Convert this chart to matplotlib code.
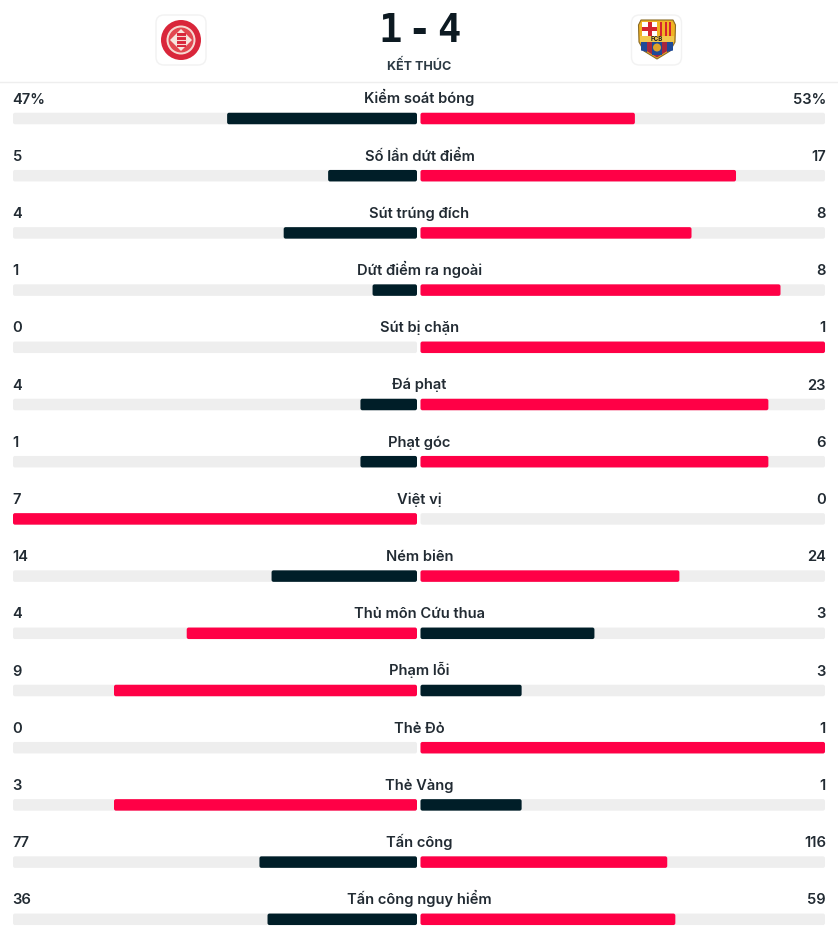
import matplotlib
matplotlib.use("Agg")
import matplotlib.pyplot as plt
from matplotlib.patches import FancyBboxPatch, Circle, Polygon, Rectangle

plt.rcParams['font.family'] = ['Inter', 'Noto Sans', 'DejaVu Sans']

categories = ["Kiểm soát bóng", "Số lần dứt điểm", "Sút trúng đích", "Dứt điểm ra ngoài",
              "Sút bị chặn", "Đá phạt", "Phạt góc", "Việt vị", "Ném biên",
              "Thủ môn Cứu thua", "Phạm lỗi", "Thẻ Đỏ", "Thẻ Vàng", "Tấn công",
              "Tấn công nguy hiểm"]
home_labels = ["47%", "5", "4", "1", "0", "4", "1", "7", "14", "4", "9", "0", "3", "77", "36"]
away_labels = ["53%", "17", "8", "8", "1", "23", "6", "0", "24", "3", "3", "1", "1", "116", "59"]
home_share = [47, 22, 33, 11, 0, 14, 14, 100, 36, 57, 75, 0, 75, 39, 37]
away_share = [53, 78, 67, 89, 100, 86, 86, 0, 64, 43, 25, 100, 25, 61, 63]
home_wins = [False, False, False, False, False, False, False, True, False, True, True, False, True, False, False]

W, H = 838, 940
DARK, RED, TRACK, TEXT = "#001e28", "#ff0046", "#eeeeee", "#222b33"
fig = plt.figure(figsize=(W / 100, H / 100), dpi=100, facecolor="white")
ax = fig.add_axes([0, 0, 1, 1])
ax.set_xlim(0, W)
ax.set_ylim(H, 0)
ax.axis("off")

LEFT_END, LEFT_ZERO, RIGHT_ZERO, RIGHT_END = 13, 417, 420.5, 825
ROW0, ROW_STEP, BAR_H = 118.5, 57.2, 11.5


def rbar(x0, x1, yc, color, z=2):
    if x1 - x0 <= 0:
        return
    r = 2
    ax.add_patch(FancyBboxPatch((x0 + r, yc - BAR_H / 2 + r), x1 - x0 - 2 * r, BAR_H - 2 * r,
                                boxstyle=f"round,pad={r},rounding_size={r}",
                                fc=color, ec="none", zorder=z))


for i, cat in enumerate(categories):
    yc = ROW0 + i * ROW_STEP
    rbar(LEFT_END, LEFT_ZERO, yc, TRACK, 1)
    rbar(RIGHT_ZERO, RIGHT_END, yc, TRACK, 1)
    hc, ac = (RED, DARK) if home_wins[i] else (DARK, RED)
    rbar(LEFT_ZERO - (LEFT_ZERO - LEFT_END) * home_share[i] / 100, LEFT_ZERO, yc, hc)
    rbar(RIGHT_ZERO, RIGHT_ZERO + (RIGHT_END - RIGHT_ZERO) * away_share[i] / 100, yc, ac)
    ty = yc - 15
    ax.text(419.5, ty, cat, ha="center", va="baseline", fontsize=10.6, fontweight="semibold", color=TEXT)
    ax.text(12.5, ty, home_labels[i], ha="left", va="baseline", fontsize=10.6, fontweight="semibold", color=TEXT)
    ax.text(826, ty, away_labels[i], ha="right", va="baseline", fontsize=10.6, fontweight="semibold", color=TEXT)

# Header
ax.plot([0, W], [82, 82], color="#eeeeee", lw=1, zorder=1)
score_parts = ["1", "-", "4"]
for part, sx in zip(score_parts, (390, 419, 449)):
    ax.text(sx, 42.5, part, ha="center", va="baseline", fontsize=28, fontweight="bold",
            family="DejaVu Sans Mono", color="#0d1a22")
ax.text(419.5, 70.5, "KẾT THÚC", ha="center", va="baseline", fontsize=9, fontweight="bold", color="#2c3a44")

for cx in (181, 656.5):
    ax.add_patch(FancyBboxPatch((cx - 21, 19), 42, 42, boxstyle="round,pad=4,rounding_size=8",
                                fc="white", ec="#f2f2f2", lw=1, zorder=1))

# Girona badge
ax.add_patch(Circle((181, 40), 20, fc="#d9263a", ec="none", zorder=3))
ax.add_patch(Circle((181, 40), 14.5, fc="#f6d9d2", ec="none", zorder=4))
ax.add_patch(Circle((181, 40), 12.5, fc="#e2474f", ec="none", zorder=4.5))
ax.add_patch(Polygon([(181, 29), (192, 40), (181, 51), (170, 40)], fc="#f7e6de", ec="none", zorder=5))
ax.add_patch(Rectangle((176.5, 33), 9, 14, fc="#d9263a", ec="none", zorder=6))
for sy in (36, 40, 44):
    ax.plot([176.5, 185.5], [sy, sy], color="#f6d9d2", lw=0.8, zorder=7)

# Barcelona crest
crest = [(641, 20), (673, 20), (675.5, 25), (675, 42), (670, 51), (657, 59), (644, 51), (639, 42), (638.5, 25)]
ax.add_patch(Polygon(crest, fc="#f0b323", ec="#8a6a25", lw=0.8, zorder=3))
ax.add_patch(Rectangle((642, 21.5), 15, 14.5, fc="white", ec="none", zorder=4))
ax.add_patch(Rectangle((647.5, 21.5), 4, 14.5, fc="#d4242f", ec="none", zorder=5))
ax.add_patch(Rectangle((642, 26.5), 15, 4, fc="#d4242f", ec="none", zorder=5))
ax.add_patch(Rectangle((658, 21.5), 15, 14.5, fc="#f0b323", ec="none", zorder=4))
for sx in (660, 664.5, 669):
    ax.add_patch(Rectangle((sx, 21.5), 2.2, 14.5, fc="#d4242f", ec="none", zorder=5))
ax.add_patch(Rectangle((640, 36), 34, 6, fc="#f2c84b", ec="none", zorder=4))
ax.text(657, 41, "FCB", ha="center", va="baseline", fontsize=4.5, fontweight="bold", color="#222222", zorder=6)
ax.add_patch(Polygon([(641, 42), (673, 42), (669, 50), (657, 57.5), (645, 50)], fc="#a7273f", ec="none", zorder=4))
for px0, px1, bot0, bot1 in ((641, 647, 50.5, 52), (652, 662, 55, 55), (667, 673, 52, 50.5)):
    ax.add_patch(Polygon([(px0, 42), (px1, 42), (px1, bot1), (px0, bot0)], fc="#1f4a97", ec="none", zorder=5))
ax.add_patch(Circle((657, 47.5), 4, fc="#e0a32b", ec="none", zorder=6))

fig.savefig("out.png", dpi=100, facecolor="white")
